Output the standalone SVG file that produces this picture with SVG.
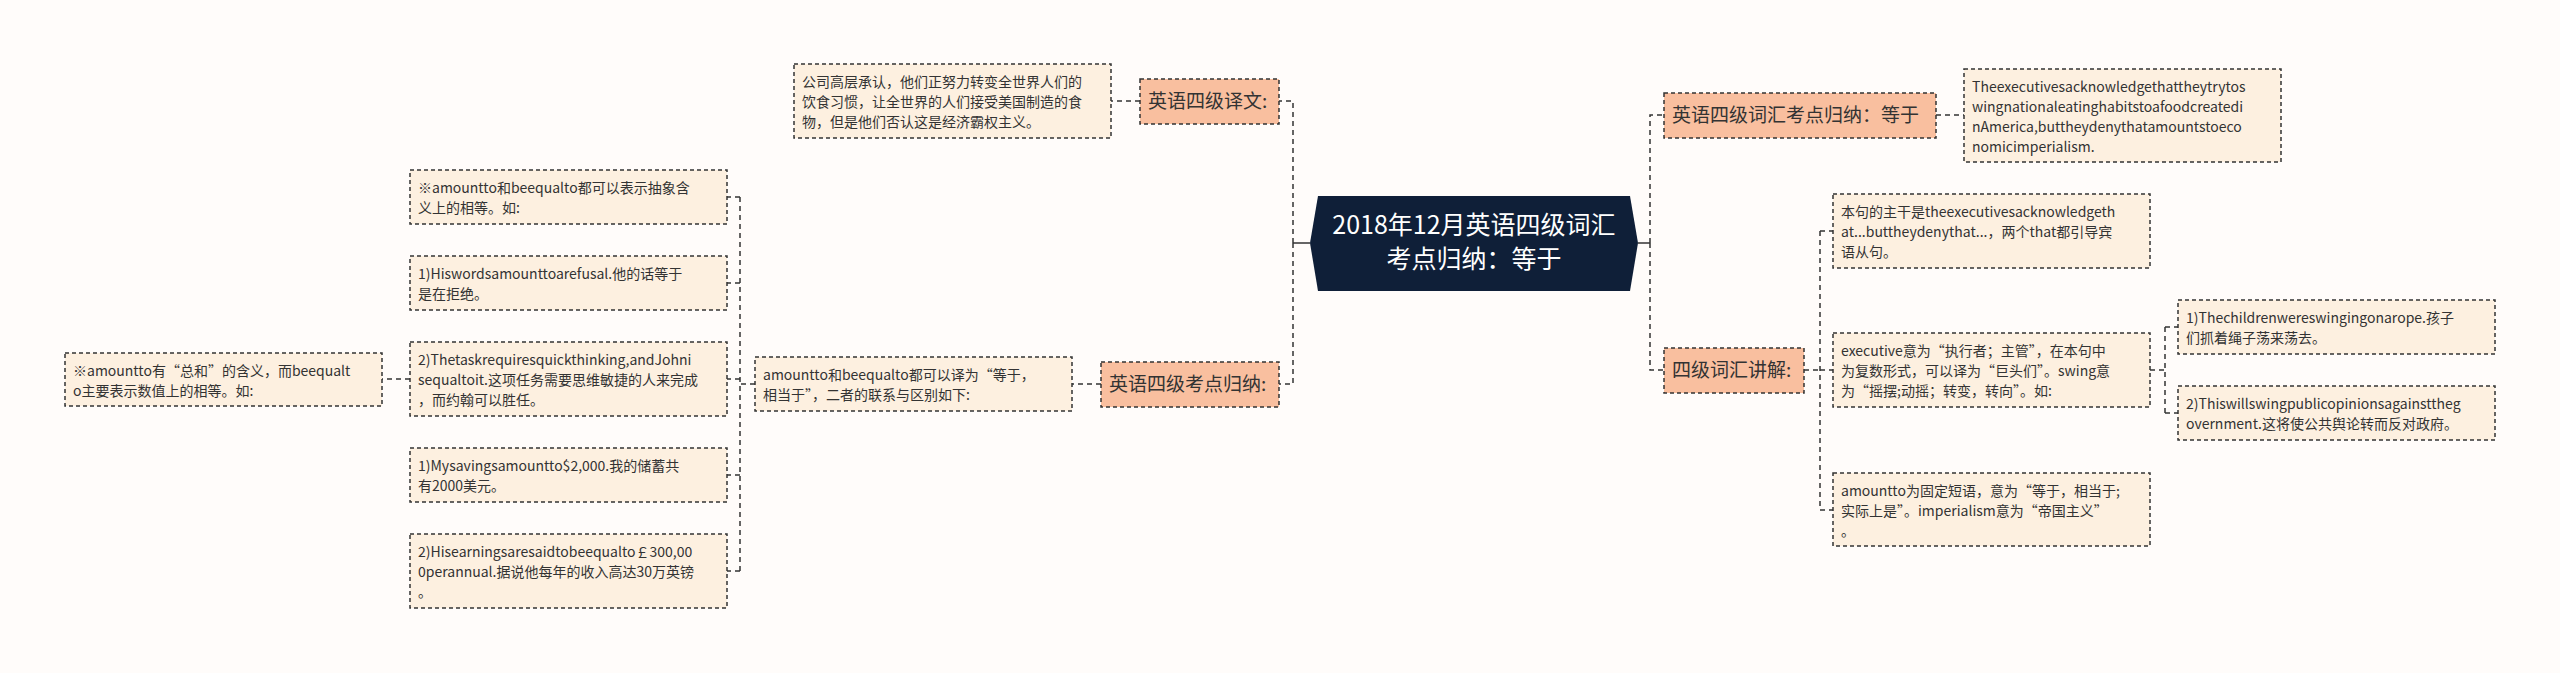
<svg xmlns="http://www.w3.org/2000/svg" width="2560" height="673" viewBox="0 0 2560 673">
<style>
.bg{fill:#fffcfa}
.t{fill:#fdf0e0;stroke:#333;stroke-width:1.5;stroke-dasharray:4 3}
.b{fill:#f9bf9f;stroke:#333;stroke-width:1.5;stroke-dasharray:4 3}
.c{fill:none;stroke:#333;stroke-width:1.5;stroke-dasharray:5 4}
.tx{font-family:"Noto Sans CJK SC","Liberation Sans",sans-serif;font-size:14px;fill:#333}
.bx{font-family:"Noto Sans CJK SC","Liberation Sans",sans-serif;font-size:19px;fill:#333}
.cx{font-family:"Noto Sans CJK SC","Liberation Sans",sans-serif;font-size:25px;fill:#fff}
</style>
<rect class="bg" width="2560" height="673"/>
<g id="connectors">
<path class="c" style="stroke-dasharray:none" d="M1310 243H1293"/>
<path class="c" d="M1293 243V101H1279M1293 243V384H1279"/>
<path class="c" style="stroke-dasharray:none" d="M1638 243H1650"/>
<path class="c" d="M1650 243V115H1664M1650 243V370H1664"/>
<path class="c" d="M1140 101H1111M1101 384H1072M755 384H740M740 197V571M740 197H727M740 283H727M740 379H727M740 475H727M740 571H727M410 379H382"/>
<path class="c" d="M1936 115H1964M1804 370H1820M1820 231V510M1820 231H1833M1820 370H1833M1820 510H1833M2150 370H2165M2165 327V413M2165 327H2178M2165 413H2178"/>
</g>
<g id="center">
<polygon points="1318,196 1630,196 1638,243 1630,291 1318,291 1310,243" fill="#0f1f38"/>
<text class="cx" text-anchor="middle" x="1474" y="234">2018年12月英语四级词汇</text>
<text class="cx" text-anchor="middle" x="1474" y="268">考点归纳：等于</text>
</g>
<g id="b1"><rect class="b" x="1140" y="79" width="139" height="45"/><text class="bx" x="1148" y="108">英语四级译文:</text></g>
<g id="b2"><rect class="b" x="1101" y="362" width="178" height="45"/><text class="bx" x="1109" y="391">英语四级考点归纳:</text></g>
<g id="b3"><rect class="b" x="1664" y="93" width="272" height="45"/><text class="bx" x="1672" y="122">英语四级词汇考点归纳：等于</text></g>
<g id="b4"><rect class="b" x="1664" y="348" width="140" height="45"/><text class="bx" x="1672" y="377">四级词汇讲解:</text></g>
<g id="n1"><rect class="t" x="794" y="64" width="317" height="74"/><text class="tx" x="802" y="87"><tspan x="802">公司高层承认，他们正努力转变全世界人们的</tspan><tspan x="802" dy="20">饮食习惯，让全世界的人们接受美国制造的食</tspan><tspan x="802" dy="20">物，但是他们否认这是经济霸权主义。</tspan></text></g>
<g id="n2"><rect class="t" x="755" y="357" width="317" height="54"/><text class="tx" x="763" y="380"><tspan x="763">amountto和beequalto都可以译为“等于，</tspan><tspan x="763" dy="20">相当于”，二者的联系与区别如下:</tspan></text></g>
<g id="n3"><rect class="t" x="410" y="170" width="317" height="54"/><text class="tx" x="418" y="193"><tspan x="418">※amountto和beequalto都可以表示抽象含</tspan><tspan x="418" dy="20">义上的相等。如:</tspan></text></g>
<g id="n4"><rect class="t" x="410" y="256" width="317" height="54"/><text class="tx" x="418" y="279"><tspan x="418">1)Hiswordsamounttoarefusal.他的话等于</tspan><tspan x="418" dy="20">是在拒绝。</tspan></text></g>
<g id="n5"><rect class="t" x="410" y="342" width="317" height="74"/><text class="tx" x="418" y="365"><tspan x="418">2)Thetaskrequiresquickthinking,andJohni</tspan><tspan x="418" dy="20">sequaltoit.这项任务需要思维敏捷的人来完成</tspan><tspan x="418" dy="20">，而约翰可以胜任。</tspan></text></g>
<g id="n6"><rect class="t" x="410" y="448" width="317" height="54"/><text class="tx" x="418" y="471"><tspan x="418">1)Mysavingsamountto$2,000.我的储蓄共</tspan><tspan x="418" dy="20">有2000美元。</tspan></text></g>
<g id="n7"><rect class="t" x="410" y="534" width="317" height="74"/><text class="tx" x="418" y="557"><tspan x="418">2)Hisearningsaresaidtobeequalto￡300,00</tspan><tspan x="418" dy="20">0perannual.据说他每年的收入高达30万英镑</tspan><tspan x="418" dy="20">。</tspan></text></g>
<g id="n8"><rect class="t" x="65" y="353" width="317" height="53"/><text class="tx" x="73" y="376"><tspan x="73">※amountto有“总和”的含义，而beequalt</tspan><tspan x="73" dy="20">o主要表示数值上的相等。如:</tspan></text></g>
<g id="n9"><rect class="t" x="1964" y="69" width="317" height="93"/><text class="tx" x="1972" y="92"><tspan x="1972">Theexecutivesacknowledgethattheytrytos</tspan><tspan x="1972" dy="20">wingnationaleatinghabitstoafoodcreatedi</tspan><tspan x="1972" dy="20">nAmerica,buttheydenythatamountstoeco</tspan><tspan x="1972" dy="20">nomicimperialism.</tspan></text></g>
<g id="n10"><rect class="t" x="1833" y="194" width="317" height="74"/><text class="tx" x="1841" y="217"><tspan x="1841">本句的主干是theexecutivesacknowledgeth</tspan><tspan x="1841" dy="20">at...buttheydenythat...，两个that都引导宾</tspan><tspan x="1841" dy="20">语从句。</tspan></text></g>
<g id="n11"><rect class="t" x="1833" y="333" width="317" height="74"/><text class="tx" x="1841" y="356"><tspan x="1841">executive意为“执行者；主管”，在本句中</tspan><tspan x="1841" dy="20">为复数形式，可以译为“巨头们”。swing意</tspan><tspan x="1841" dy="20">为“摇摆;动摇；转变，转向”。如:</tspan></text></g>
<g id="n12"><rect class="t" x="1833" y="473" width="317" height="73"/><text class="tx" x="1841" y="496"><tspan x="1841">amountto为固定短语，意为“等于，相当于;</tspan><tspan x="1841" dy="20">实际上是”。imperialism意为“帝国主义”</tspan><tspan x="1841" dy="20">。</tspan></text></g>
<g id="n13"><rect class="t" x="2178" y="300" width="317" height="54"/><text class="tx" x="2186" y="323"><tspan x="2186">1)Thechildrenwereswingingonarope.孩子</tspan><tspan x="2186" dy="20">们抓着绳子荡来荡去。</tspan></text></g>
<g id="n14"><rect class="t" x="2178" y="386" width="317" height="54"/><text class="tx" x="2186" y="409"><tspan x="2186">2)Thiswillswingpublicopinionsagainsttheg</tspan><tspan x="2186" dy="20">overnment.这将使公共舆论转而反对政府。</tspan></text></g>
</svg>
